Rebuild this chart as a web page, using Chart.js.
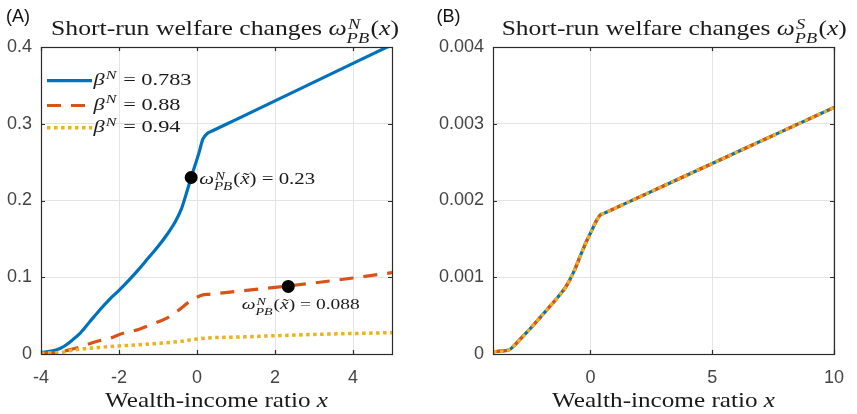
<!DOCTYPE html>
<html>
<head>
<meta charset="utf-8">
<script src="https://cdn.jsdelivr.net/npm/chart.js@4.4.1/dist/chart.umd.min.js"></script>
<style>
  html, body { margin: 0; padding: 0; background: #ffffff; }
  #wrap { position: relative; width: 857px; height: 414px; overflow: hidden; }
  #panelA { position: absolute; left: 0; top: 0; }
  #panelB { position: absolute; left: 430px; top: 0; }
</style>
</head>
<body>
<div id="wrap">
  <canvas id="panelA" width="430" height="414"></canvas>
  <canvas id="panelB" width="427" height="414"></canvas>
</div>
<script>
// ---------- Panel A: short-run welfare changes for the N group ----------
const xA_b783 = [-4, -3.7, -3.5, -3.35, -3.2, -3.0, -2.75, -2.5, -2.25, -2.0, -1.75, -1.5, -1.25, -1.0, -0.75, -0.55, -0.4, -0.28, -0.15, 0.05, 0.15, 0.27, 0.4, 1, 2, 3, 4, 5];
const yA_b783 = [0.002, 0.004, 0.0075, 0.012, 0.018, 0.027, 0.042, 0.057, 0.071, 0.083, 0.096, 0.110, 0.125, 0.140, 0.157, 0.173, 0.189, 0.208, 0.230, 0.262, 0.280, 0.2876, 0.2908, 0.3054, 0.3298, 0.3542, 0.3786, 0.4030];

const xA_b088 = [-4, -3.6, -3.3, -3.0, -2.6, -2.2, -1.9, -1.5, -1.2, -0.8, -0.5, -0.2, 0, 0.15, 0.3, 1, 2, 3, 4, 5];
const yA_b088 = [0.001, 0.002, 0.005, 0.009, 0.016, 0.021, 0.027, 0.032, 0.038, 0.046, 0.056, 0.068, 0.074, 0.077, 0.0778, 0.0815, 0.0868, 0.0926, 0.0990, 0.1060];

const xA_b094 = [-4, -3.5, -3.2, -2.5, -2.0, -1.5, -1.0, -0.5, 0, 0.3, 1, 2, 3, 4, 5];
const yA_b094 = [0.001, 0.002, 0.005, 0.0085, 0.0105, 0.012, 0.014, 0.016, 0.0195, 0.021, 0.022, 0.0238, 0.0255, 0.0267, 0.0278];

// marked points x-tilde and their values
const markX = [-0.15, 2.34];
const markY = [0.23, 0.088];

const xTicksA = [-4, -2, 0, 2, 4];
const yTicksA = [0, 0.1, 0.2, 0.3, 0.4];
const yTickLabelsA = ['0', '0.1', '0.2', '0.3', '0.4'];

// ---------- Panel B: short-run welfare changes for the S group ----------
// the three beta^N cases coincide in this panel
const xB = [-4, -3.6, -3.3, -3.1, -2.8, -2.5, -2.0, -1.5, -1.0, -0.7, -0.4, -0.13, 0.07, 0.25, 0.4, 0.55, 1, 2, 4, 6, 8, 10];
const yB_b783 = [0.00003, 0.00004, 0.00006, 0.00012, 0.00022, 0.00032, 0.0005, 0.00068, 0.00088, 0.00106, 0.00129, 0.00149, 0.00162, 0.00174, 0.00181, 0.001832, 0.001898, 0.002044, 0.002336, 0.002628, 0.00292, 0.003212];
const yB_b088 = yB_b783.slice();
const yB_b094 = yB_b783.slice();

const xTicksB = [0, 5, 10];
const yTicksB = [0, 0.001, 0.002, 0.003, 0.004];
const yTickLabelsB = ['0', '0.001', '0.002', '0.003', '0.004'];

const betaLabels = ['0.783', '0.88', '0.94'];

// ---------- styling ----------
const BLUE = '#0072BD', ORANGE = '#D95319', YELLOW = '#EDB120';
const GRID = '#e4e4e4', AXIS = '#2b2b2b', TICKTXT = '#444444';
const SANS = '"Liberation Sans", Arial, Helvetica, sans-serif';
const SERIF = '"Liberation Serif", "Times New Roman", serif';

const styles = [
  { color: BLUE, width: 3.2, dash: [] },
  { color: ORANGE, width: 3.2, dash: [14, 10] },
  { color: YELLOW, width: 3.5, dash: [3.5, 3.5] }
];

function pts(xs, ys) { return xs.map((x, i) => ({ x: x, y: ys[i] })); }

// ---------- small math-text renderer (italic symbols, sub/superscripts) ----------
function fontStr(size, it) { return (it ? 'italic ' : '') + size.toFixed(2) + 'px ' + SERIF; }
function partWidth(ctx, p, size) {
  if (p.sup !== undefined || p.sub !== undefined) {
    const s = size * 0.72; let w = 0;
    ctx.font = fontStr(s, true);
    if (p.sup) w = Math.max(w, ctx.measureText(p.sup).width + size * 0.05);
    if (p.sub) w = Math.max(w, ctx.measureText(p.sub).width);
    return w + size * 0.05;
  }
  ctx.font = fontStr(size, p.i);
  return ctx.measureText(p.t).width + (p.gap || 0) * size;
}
function drawMath(ctx, parts, x, y, size, opt) {
  opt = opt || {};
  let w = 0;
  for (const p of parts) w += partWidth(ctx, p, size);
  const sx = opt.width ? opt.width / w : 1;
  const tw = w * sx;
  let left = opt.align === 'center' ? x - tw / 2 : (opt.align === 'right' ? x - tw : x);
  ctx.save();
  ctx.translate(left, y);
  ctx.scale(sx, 1);
  ctx.fillStyle = opt.color || '#1a1a1a';
  ctx.textBaseline = 'alphabetic';
  ctx.textAlign = 'left';
  let cx = 0;
  for (const p of parts) {
    if (p.sup !== undefined || p.sub !== undefined) {
      const s = size * 0.72;
      ctx.font = fontStr(s, true);
      const hasSub = !!p.sub;
      if (p.sup) ctx.fillText(p.sup, cx + size * 0.05, -size * (hasSub ? 0.27 : 0.4));
      if (p.sub) ctx.fillText(p.sub, cx, size * 0.36);
    } else {
      ctx.font = fontStr(size, p.i);
      ctx.fillText(p.t, cx, 0);
      if (p.tilde) {
        const gw = ctx.measureText(p.t).width;
        ctx.font = fontStr(size, false);
        ctx.textAlign = 'center';
        ctx.fillText('\u02DC', cx + gw / 2 + size * 0.07, 0);
        ctx.textAlign = 'left';
      }
    }
    cx += partWidth(ctx, p, size);
  }
  ctx.restore();
}

function titleParts(sup) {
  return [{ t: 'Short-run welfare changes ' }, { t: '\u03C9', i: true }, { sup: sup, sub: 'PB' },
          { t: '(' }, { t: 'x', i: true }, { t: ')' }];
}
const xLabelParts = [{ t: 'Wealth-income ratio ' }, { t: 'x', i: true }];
function markParts(val) {
  return [{ t: '\u03C9', i: true }, { sup: 'N', sub: 'PB' }, { t: '(' }, { t: 'x', i: true, tilde: true },
          { t: ')' }, { t: ' = ' + val }];
}

// ---------- plugin: axes box, inward ticks, titles, legend, annotations ----------
const framePlugin = {
  id: 'frame',
  afterDatasetsDraw(chart, args, o) {
    const ctx = chart.ctx, a = chart.chartArea;
    const xs = chart.scales.x, ys = chart.scales.y;
    ctx.save();
    // box
    ctx.strokeStyle = AXIS; ctx.lineWidth = 1.2;
    ctx.strokeRect(Math.round(a.left) + 0.5, Math.round(a.top) + 0.5,
                   Math.round(a.right) - Math.round(a.left), Math.round(a.bottom) - Math.round(a.top));
    // inward ticks on all four sides
    const tl = 4;
    ctx.beginPath();
    for (const t of xs.ticks) {
      const px = Math.round(xs.getPixelForValue(t.value)) + 0.5;
      ctx.moveTo(px, a.bottom); ctx.lineTo(px, a.bottom - tl);
      ctx.moveTo(px, a.top); ctx.lineTo(px, a.top + tl);
    }
    for (const t of ys.ticks) {
      const py = Math.round(ys.getPixelForValue(t.value)) + 0.5;
      ctx.moveTo(a.left, py); ctx.lineTo(a.left + tl, py);
      ctx.moveTo(a.right, py); ctx.lineTo(a.right - tl, py);
    }
    ctx.stroke();
    ctx.restore();

    // panel tag
    ctx.save();
    ctx.fillStyle = '#111111';
    ctx.font = '18px ' + SANS;
    ctx.textBaseline = 'alphabetic'; ctx.textAlign = 'left';
    ctx.fillText(o.tag, o.tagX, 22);
    ctx.restore();

    // title and x-axis label
    drawMath(ctx, titleParts(o.titleSup), o.titleX, 35, 21, { width: o.titleW });
    drawMath(ctx, xLabelParts, (a.left + a.right) / 2, 406.5, 22, { align: 'center', width: 223 });

    // legend
    if (o.legend) {
      const rows = [80.7, 105.5, 127.7];
      styles.forEach((st, i) => {
        ctx.save();
        ctx.strokeStyle = st.color; ctx.lineWidth = st.width; ctx.setLineDash(st.dash);
        ctx.lineCap = 'butt';
        ctx.beginPath(); ctx.moveTo(47, rows[i]); ctx.lineTo(92, rows[i]); ctx.stroke();
        ctx.restore();
        const parts = [{ t: '\u03B2', i: true }, { sup: 'N' }, { t: ' = ' + betaLabels[i] }];
        drawMath(ctx, parts, 93.5, rows[i] + 4.6, 17, { width: i === 0 ? 98 : 87 });
      });
    }

    // marked points annotations
    if (o.marks) {
      const p1x = xs.getPixelForValue(markX[0]), p1y = ys.getPixelForValue(markY[0]);
      drawMath(ctx, markParts('0.23'), p1x + 8, p1y + 6.5, 16, { width: 116 });
      const p2x = xs.getPixelForValue(markX[1]), p2y = ys.getPixelForValue(markY[1]);
      drawMath(ctx, markParts('0.088'), p2x - 46.5, p2y + 22.5, 15.5, { width: 118 });
    }
  }
};

function lineSet(data, st, order) {
  return {
    data: data, borderColor: st.color, borderWidth: st.width, borderDash: st.dash,
    borderCapStyle: 'butt', pointRadius: 0, fill: false, cubicInterpolationMode: 'monotone',
    order: order, clip: 0
  };
}

function makePanel(id, cfg) {
  const datasets = cfg.series.map((s, i) => lineSet(s, styles[i], 3 - i));
  if (cfg.marks) {
    datasets.push({
      type: 'scatter', data: pts(markX, markY), showLine: false,
      pointRadius: 6.5, pointBackgroundColor: '#000000', pointBorderWidth: 0, order: 0, clip: false
    });
  }
  return new Chart(document.getElementById(id), {
    type: 'line',
    data: { datasets: datasets },
    options: {
      responsive: false, animation: false, devicePixelRatio: 1,
      layout: { padding: { left: 0, right: cfg.padRight, top: 47, bottom: 0 } },
      plugins: { legend: { display: false }, tooltip: { enabled: false }, frame: cfg.frame },
      scales: {
        x: {
          type: 'linear', min: cfg.xMin, max: cfg.xMax,
          afterBuildTicks: s => { s.ticks = cfg.xTicks.map(v => ({ value: v })); },
          afterFit: s => { s.height = 60; },
          grid: { color: GRID, lineWidth: 1, drawTicks: false },
          border: { display: false },
          ticks: { color: TICKTXT, font: { family: SANS, size: 18 }, padding: 13,
                   maxRotation: 0, autoSkip: false, callback: v => String(v) }
        },
        y: {
          type: 'linear', min: cfg.yTicks[0], max: cfg.yTicks[cfg.yTicks.length - 1],
          afterBuildTicks: s => { s.ticks = cfg.yTicks.map(v => ({ value: v })); },
          afterFit: s => { s.width = cfg.yWidth; },
          grid: { color: GRID, lineWidth: 1, drawTicks: false },
          border: { display: false },
          ticks: { color: TICKTXT, font: { family: SANS, size: 18 }, padding: 9, autoSkip: false,
                   callback: (v, i) => cfg.yLabels[i] }
        }
      }
    },
    plugins: [framePlugin]
  });
}

makePanel('panelA', {
  series: [pts(xA_b783, yA_b783), pts(xA_b088, yA_b088), pts(xA_b094, yA_b094)],
  marks: true, xMin: -4, xMax: 5, xTicks: xTicksA, yTicks: yTicksA, yLabels: yTickLabelsA,
  yWidth: 41, padRight: 38,
  frame: { tag: '(A)', tagX: 6, titleSup: 'N', titleX: 51, titleW: 348, legend: true, marks: true }
});

makePanel('panelB', {
  series: [pts(xB, yB_b783), pts(xB, yB_b088), pts(xB, yB_b094)],
  marks: false, xMin: -4, xMax: 10, xTicks: xTicksB, yTicks: yTicksB, yLabels: yTickLabelsB,
  yWidth: 63, padRight: 14,
  frame: { tag: '(B)', tagX: 6.5, titleSup: 'S', titleX: 71.7, titleW: 345, legend: false, marks: false }
});
</script>
</body>
</html>
